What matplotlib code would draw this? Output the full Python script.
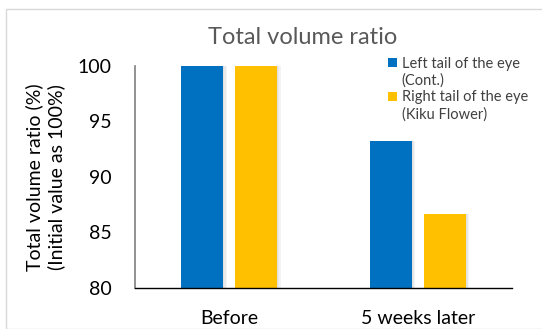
import numpy as np
import matplotlib
matplotlib.use("Agg")
import matplotlib.pyplot as plt
from matplotlib.patches import Rectangle, Patch

# Valores de la gráfica
categorias = ["Before", "5 weeks later"]
izquierda  = [100.0, 93.2]   # Left tail of the eye (Cont.)
derecha    = [100.0, 86.7]   # Right tail of the eye (Kiku Flower)
series_labels = [("Left tail of the eye", "(Cont.)"),
                 ("Right tail of the eye", "(Kiku Flower)")]
yticks = [80, 85, 90, 95, 100]

AZUL     = "#0070C0"
AMARILLO = "#FFC000"
FONT     = ["Lato", "DejaVu Sans"]

plt.rcParams["font.family"] = FONT

fig = plt.figure(figsize=(5.42, 3.29), dpi=100)
fig.patch.set_facecolor("white")
# marco gris del área del gráfico
fig.patches.append(Rectangle((6 / 542, 0), 1.0, 1 - 9 / 329,
                             transform=fig.transFigure, fill=False,
                             edgecolor="#d9d9d9", linewidth=1.0))

ax = fig.add_axes([135 / 542, 41 / 329, 377 / 542, 222 / 329])
x = np.arange(len(categorias))
w = 0.223
off = 0.143

for vals, color, dx in ((izquierda, AZUL, -off), (derecha, AMARILLO, off)):
    # sombra suave detrás de cada barra
    for k in range(3):
        ax.bar(x + dx + 0.006 * (k + 1), np.array(vals) - 80, bottom=80,
               width=w, color="#bfbfbf", alpha=0.18, zorder=1)
    ax.bar(x + dx, np.array(vals) - 80, bottom=80, width=w,
           color=color, zorder=2)

ax.set_xlim(-0.5, 1.5)
ax.set_ylim(80, 100)
ax.set_yticks(yticks)
ax.set_xticks(x)
ax.set_xticklabels(categorias)
ax.tick_params(axis="both", length=0, labelsize=14, colors="black")
ax.tick_params(axis="y", pad=17)
ax.tick_params(axis="x", pad=16)

for s in ("top", "right"):
    ax.spines[s].set_visible(False)
ax.spines["left"].set_color("#7f7f7f")
ax.spines["left"].set_linewidth(1.2)
ax.spines["bottom"].set_color("black")
ax.spines["bottom"].set_linewidth(1.0)

ax.set_ylabel("Total volume ratio (%)\n(Initial value as 100%)",
              fontsize=14, color="black", labelpad=9, linespacing=1.25)

fig.text(303 / 542, 1 - 37 / 329, "Total volume ratio", ha="center",
         va="center", fontsize=17, color="#595959")

# leyenda: el cuadro de color va junto a la primera línea de cada serie
handles, labels = [], []
for color, (l1, l2) in zip((AZUL, AMARILLO), series_labels):
    handles += [Patch(facecolor=color, edgecolor="none"),
                Patch(facecolor="none", edgecolor="none")]
    labels += [l1, l2]
leg = ax.legend(handles, labels, loc="upper left",
                bbox_to_anchor=(382 / 542, 1 - 51 / 329),
                bbox_transform=fig.transFigure, frameon=False, fontsize=10.5,
                handlelength=0.6, handleheight=0.6, handletextpad=0.35,
                labelspacing=0.18, borderaxespad=0)
for t in leg.get_texts():
    t.set_color("#404040")

fig.savefig("out.png", dpi=100, facecolor=fig.get_facecolor())
